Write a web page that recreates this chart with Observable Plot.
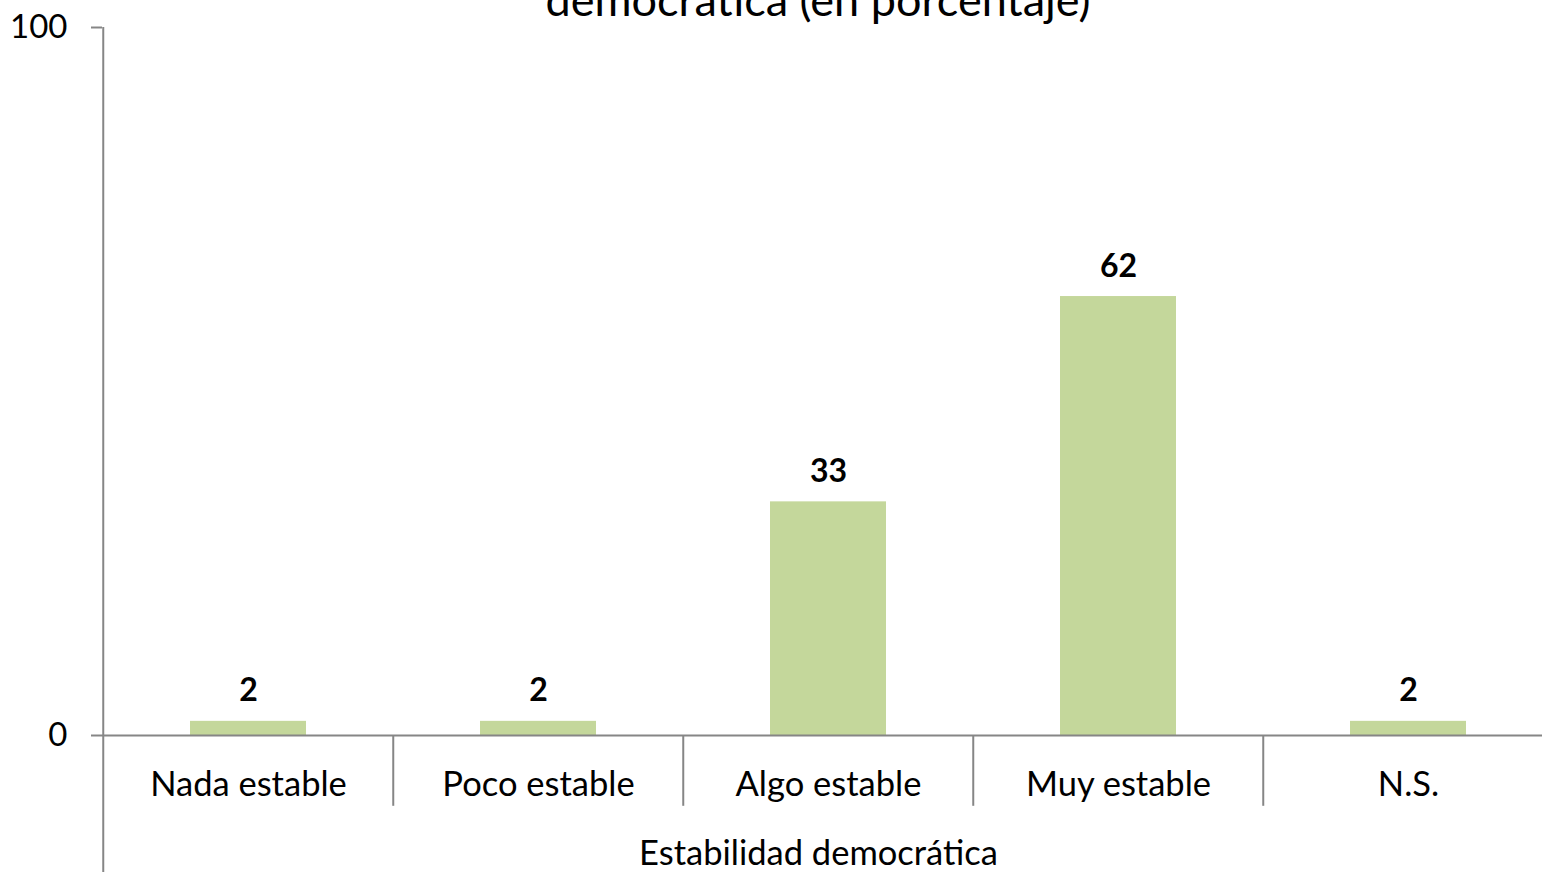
<!DOCTYPE html>
<html>
<head>
<meta charset="utf-8">
<script src="https://cdn.jsdelivr.net/npm/d3@7"></script>
<script src="https://cdn.jsdelivr.net/npm/@observablehq/plot@0.6"></script>
<style>
  html, body { margin: 0; padding: 0; background: #fff; overflow: hidden; width: 1542px; height: 872px; }
  #wrap { position: relative; width: 1542px; height: 872px; overflow: hidden; }
  #title { position: absolute; left: 0; width: 1636px; top: -28px; text-align: center;
           font-family: Lato, "Open Sans", sans-serif; font-size: 45px; color: #000; line-height: 54px; }
  svg { overflow: hidden; }
</style>
</head>
<body>
<div id="wrap">
  <div id="chart"></div>
  <div id="title">democrática (en porcentaje)</div>
</div>
<script>
const categories = ["Nada estable", "Poco estable", "Algo estable", "Muy estable", "N.S."];
const values = [2, 2, 33, 62, 2];
const yTicks = [0, 100];
const xTitle = "Estabilidad democrática";

const data = categories.map((c, i) => ({category: c, value: values[i]}));

const W = 1542, H = 872;
const x0 = 102, x1 = 1554.5;
const step = (x1 - x0) / categories.length;
const axisColor = "#868686";
const font = "Lato, 'Open Sans', sans-serif";

const chart = Plot.plot({
  width: W,
  height: H,
  marginTop: 27,
  marginBottom: 137,
  marginLeft: 102,
  marginRight: 0,
  style: {fontFamily: font, background: "#fff", color: "#000"},
  x: {domain: categories, range: [x0, x1], paddingInner: 0.6, paddingOuter: 0.3},
  y: {domain: [0, 100], label: null},
  marks: [
    Plot.barY(data, {x: "category", y: "value", fill: "#c4d79b"}),
    Plot.ruleY([0], {stroke: axisColor, strokeWidth: 2}),
    Plot.ruleX([categories[0]], {dx: -step / 2, y1: 100, y2: -20, stroke: axisColor, strokeWidth: 2}),
    Plot.ruleX(categories.slice(1), {dx: -step / 2, y1: 0, y2: -10, stroke: axisColor, strokeWidth: 2}),
    Plot.axisY({ticks: yTicks, tickSize: 11, tickPadding: 24, fontSize: 33, stroke: axisColor, strokeWidth: 2, label: null, tickFormat: d => String(d)}),
    Plot.axisX({tickSize: 0, tickPadding: 36, fontSize: 34.5, label: null}),
    Plot.text(data, {x: "category", y: "value", text: d => String(d.value), dy: -20, lineAnchor: "bottom", fontSize: 32, fontWeight: "bold"}),
    Plot.text([xTitle], {frameAnchor: "bottom", text: d => d, dy: 129, dx: -4, fontSize: 34.5, lineAnchor: "bottom"})
  ]
});

document.getElementById("chart").appendChild(chart);
</script>
</body>
</html>
